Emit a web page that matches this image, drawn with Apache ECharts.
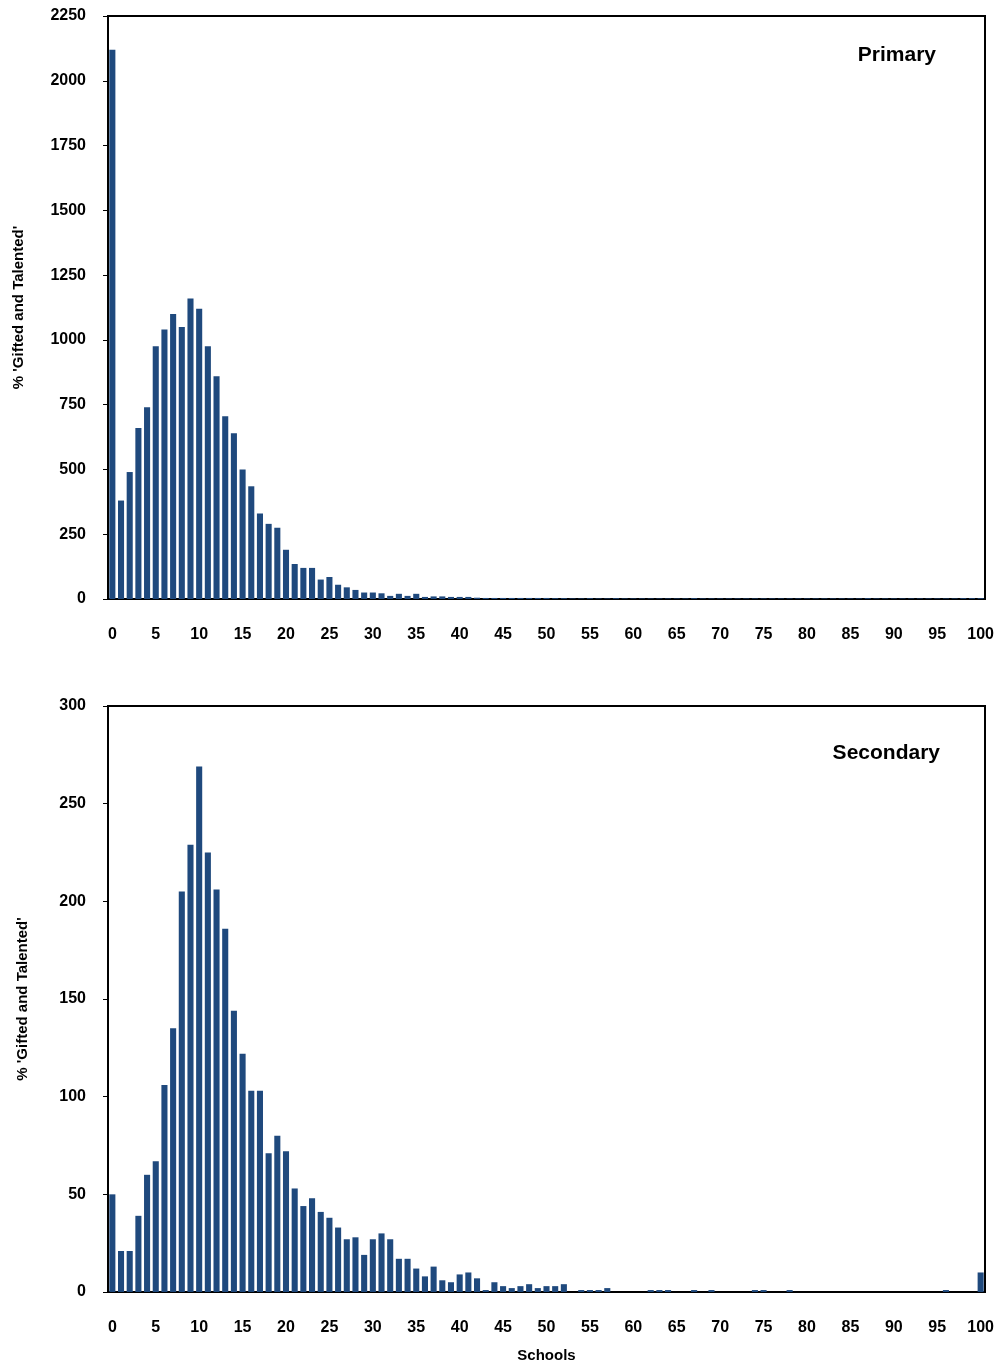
<!DOCTYPE html>
<html>
<head>
<meta charset="UTF-8">
<title>Gifted and Talented</title>
<script src="https://cdn.jsdelivr.net/npm/echarts@6/dist/echarts.min.js"></script>
<style>
  body { margin: 0; background: #fff; }
  #chart { width: 1003px; height: 1366px; }
</style>
</head>
<body>
<div id="chart"></div>
<script>
  var categories = [];
  for (var i = 0; i <= 100; i++) categories.push(String(i));

  var primary = [2120,380,490,660,740,975,1040,1100,1050,1160,1120,975,860,705,640,500,435,330,290,275,
    190,135,120,120,75,85,55,45,35,25,25,22,12,20,12,20,8,10,10,8,
    8,8,5,4,4,4,4,4,4,4,4,3,3,2,2,3,2,2,3,2,
    2,2,2,2,2,2,2,3,2,2,2,2,2,2,2,2,2,2,2,2,
    2,2,2,2,2,2,2,3,2,2,2,2,2,2,2,2,2,2,3,3,3];

  var secondary = [50,21,21,39,60,67,106,135,205,229,269,225,206,186,144,122,103,103,71,80,
    72,53,44,48,41,38,33,27,28,19,27,30,27,17,17,12,8,13,6,5,
    9,10,7,1,5,3,2,3,4,2,3,3,4,0,1,1,1,2,0,0,
    0,0,1,1,1,0,0,1,0,1,0,0,0,0,1,1,0,0,1,0,
    0,0,0,0,0,0,0,0,0,0,0,0,0,0,0,0,1,0,0,0,10];

  var fontFam = 'Arial, "Liberation Sans", sans-serif';
  var chart = echarts.init(document.getElementById('chart'));

  function xAxis(idx, name) {
    return {
      gridIndex: idx, type: 'category', data: categories,
      name: name, nameLocation: 'middle', nameGap: 56,
      nameTextStyle: { color: '#000', fontSize: 15, fontWeight: 'bold', fontFamily: fontFam },
      axisLine: { lineStyle: { color: '#000', width: 2 } },
      axisTick: { interval: 0, length: 5, lineStyle: { color: '#000' } },
      axisLabel: { interval: 4, color: '#000', fontSize: 16, fontWeight: 'bold', fontFamily: fontFam, margin: 28 }
    };
  }
  function yAxis(idx, max, step) {
    return {
      gridIndex: idx, type: 'value', min: 0, max: max, interval: step,
      name: "% 'Gifted and Talented'", nameLocation: 'middle', nameGap: idx === 0 ? 82 : 78,
      nameTextStyle: { color: '#000', fontSize: 15, fontWeight: 'bold', fontFamily: fontFam },
      axisLine: { show: true, lineStyle: { color: '#000', width: 2 } },
      axisTick: { show: true, length: 5, lineStyle: { color: '#000' } },
      splitLine: { show: false },
      axisLabel: { color: '#000', fontSize: 16, fontWeight: 'bold', fontFamily: fontFam, margin: 22,
        formatter: function (v) { return String(v); } }
    };
  }

  chart.setOption({
    animation: false,
    title: [
      { text: 'Primary', right: 62, top: 40, textStyle: { fontSize: 21, fontWeight: 'bold', fontFamily: fontFam, color: '#000' } },
      { text: 'Secondary', right: 58, top: 738, textStyle: { fontSize: 21, fontWeight: 'bold', fontFamily: fontFam, color: '#000' } }
    ],
    grid: [
      { left: 108, right: 18, top: 16, height: 583, show: true, borderColor: '#000', borderWidth: 2, outerBoundsMode: 'none' },
      { left: 108, right: 18, top: 706, height: 586, show: true, borderColor: '#000', borderWidth: 2, outerBoundsMode: 'none' }
    ],
    xAxis: [xAxis(0, ''), xAxis(1, 'Schools')],
    yAxis: [yAxis(0, 2250, 250), yAxis(1, 300, 50)],
    series: [
      { type: 'bar', xAxisIndex: 0, yAxisIndex: 0, data: primary, barWidth: '70%',
        itemStyle: { color: '#1F497D' } },
      { type: 'bar', xAxisIndex: 1, yAxisIndex: 1, data: secondary, barWidth: '70%',
        itemStyle: { color: '#1F497D' } }
    ]
  });
</script>
</body>
</html>
